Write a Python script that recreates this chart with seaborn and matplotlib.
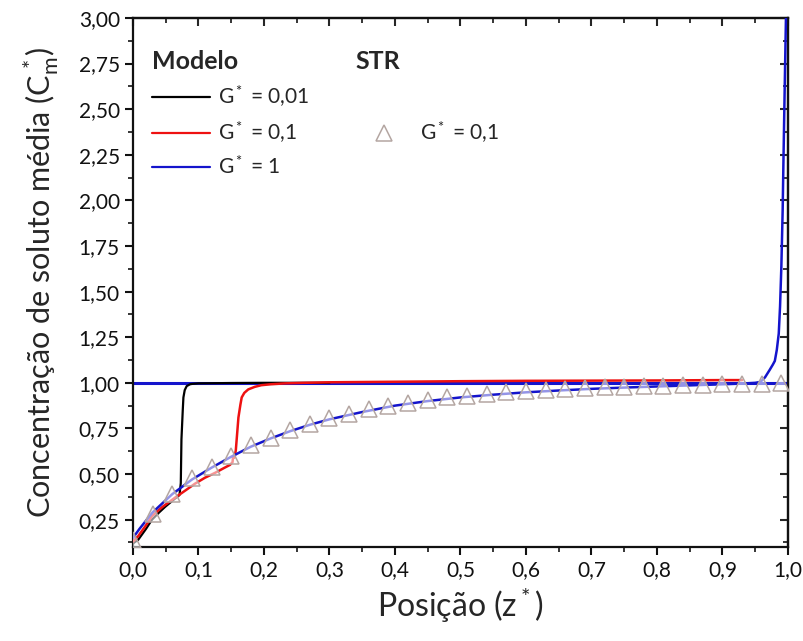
import numpy as np
import pandas as pd
import matplotlib
matplotlib.use("Agg")
import matplotlib.pyplot as plt
from matplotlib.ticker import MultipleLocator, FuncFormatter
from matplotlib.lines import Line2D
import seaborn as sns

# ---------------- data ----------------
x_g001 = [0.0, 0.008, 0.02, 0.029, 0.04, 0.049, 0.064, 0.071, 0.073, 0.074,
          0.076, 0.077, 0.079, 0.082, 0.087, 0.09, 0.10, 0.15, 0.20, 0.30]
y_g001 = [0.12, 0.14, 0.20, 0.25, 0.29, 0.32, 0.365, 0.385, 0.45, 0.69,
          0.85, 0.92, 0.96, 0.982, 0.992, 0.994, 0.997, 0.999, 1.0, 1.0]

x_g01 = [0.0, 0.008, 0.02, 0.029, 0.045, 0.064, 0.08, 0.095, 0.11, 0.125,
         0.14, 0.148, 0.152, 0.153, 0.155, 0.157, 0.159, 0.161, 0.164, 0.166,
         0.170, 0.176, 0.186, 0.196, 0.21, 0.232, 0.26, 0.30, 0.40, 0.50,
         0.60, 0.70, 0.80, 0.90, 0.93]
y_g01 = [0.13, 0.16, 0.22, 0.27, 0.32, 0.37, 0.41, 0.448, 0.48, 0.506,
         0.535, 0.55, 0.565, 0.60, 0.59, 0.63, 0.72, 0.81, 0.88, 0.92,
         0.945, 0.964, 0.978, 0.987, 0.992, 0.997, 1.0, 1.003, 1.006, 1.009,
         1.011, 1.012, 1.013, 1.015, 1.015]

x_g1 = [0.0, 0.01, 0.03, 0.06, 0.09, 0.12, 0.15, 0.18, 0.21, 0.24,
        0.27, 0.30, 0.35, 0.40, 0.45, 0.50, 0.55, 0.60, 0.65, 0.70,
        0.75, 0.80, 0.85, 0.90, 0.93, 0.95, 0.958, 0.965, 0.972, 0.977,
        0.980, 0.983, 0.986, 0.988, 0.990, 0.992, 0.993, 0.995, 0.997]
y_g1 = [0.15, 0.20, 0.29, 0.39, 0.47, 0.535, 0.595, 0.65, 0.695, 0.735,
        0.77, 0.80, 0.84, 0.875, 0.90, 0.92, 0.935, 0.948, 0.958, 0.967,
        0.974, 0.98, 0.986, 0.992, 0.996, 1.0, 1.005, 1.03, 1.07, 1.10,
        1.12, 1.18, 1.27, 1.42, 1.64, 1.95, 2.18, 2.60, 3.0]

x_ref = [0.0, 1.0]
y_ref = [1.0, 1.0]

x_str = [0.00, 0.03, 0.06, 0.09, 0.12, 0.15, 0.18, 0.21, 0.24, 0.27,
         0.30, 0.33, 0.36, 0.39, 0.42, 0.45, 0.48, 0.51, 0.54, 0.57,
         0.60, 0.63, 0.66, 0.69, 0.72, 0.75, 0.78, 0.81, 0.84, 0.87,
         0.90, 0.93, 0.96, 0.99]
y_str = [0.14, 0.28, 0.39, 0.48, 0.54, 0.60, 0.66, 0.70, 0.74, 0.775,
         0.805, 0.83, 0.855, 0.875, 0.89, 0.905, 0.92, 0.93, 0.94, 0.95,
         0.957, 0.963, 0.968, 0.972, 0.976, 0.979, 0.982, 0.985, 0.988, 0.99,
         0.992, 0.994, 0.996, 0.998]

labels_model = ["G$^*$ = 0,01", "G$^*$ = 0,1", "G$^*$ = 1"]
label_str = "G$^*$ = 0,1"
xlabel = "Posição (z$^*$)"
ylabel = "Concentração de soluto média (C$_{\\mathrm{m}}^{\\,*}$)"

# ---------------- style ----------------
sns.set_style("ticks")
plt.rcParams["font.family"] = ["Lato", "DejaVu Sans"]
plt.rcParams["mathtext.fontset"] = "custom"
plt.rcParams["mathtext.rm"] = "Lato"
plt.rcParams["mathtext.it"] = "Lato:italic"
plt.rcParams["mathtext.bf"] = "Lato:bold"
plt.rcParams["mathtext.default"] = "regular"

c_black = "#000000"
c_red = "#ee1111"
c_blue = "#1414cc"
c_tri = "#b4a6a2"

fig = plt.figure(figsize=(8.04, 6.41), dpi=100)
ax = fig.add_axes([0.1654, 0.1466, 0.8146, 0.8254])

df_ref = pd.DataFrame({"x": x_ref, "y": y_ref})
df1 = pd.DataFrame({"x": x_g001, "y": y_g001})
df2 = pd.DataFrame({"x": x_g01, "y": y_g01})
df3 = pd.DataFrame({"x": x_g1, "y": y_g1})
dfs = pd.DataFrame({"x": x_str, "y": y_str})

sns.lineplot(data=df_ref, x="x", y="y", ax=ax, color=c_blue, lw=2.2,
             sort=False, estimator=None, zorder=2)
sns.lineplot(data=df1, x="x", y="y", ax=ax, color=c_black, lw=1.6,
             sort=False, estimator=None, zorder=3)
sns.lineplot(data=df2, x="x", y="y", ax=ax, color=c_red, lw=1.8,
             sort=False, estimator=None, zorder=3)
sns.lineplot(data=df3, x="x", y="y", ax=ax, color=c_blue, lw=1.8,
             sort=False, estimator=None, zorder=3)
ax.plot(dfs["x"], dfs["y"], ls="none", marker="^", markersize=11,
        markerfacecolor=(1, 1, 1, 0.55), markeredgecolor=c_tri,
        markeredgewidth=1.1, zorder=4)

ax.set_xlim(0.0, 1.0)
ax.set_ylim(0.1, 3.0)
ax.xaxis.set_major_locator(MultipleLocator(0.1))
ax.xaxis.set_minor_locator(MultipleLocator(0.05))
ax.yaxis.set_major_locator(MultipleLocator(0.25))
ax.yaxis.set_minor_locator(MultipleLocator(0.125))
ax.xaxis.set_major_formatter(FuncFormatter(lambda v, p: f"{v:.1f}".replace(".", ",")))
ax.yaxis.set_major_formatter(FuncFormatter(lambda v, p: f"{v:.2f}".replace(".", ",")))
ax.tick_params(which="major", direction="out", length=6, width=1.5,
               labelsize=15, colors="#111111")
ax.tick_params(which="minor", direction="out", length=3.5, width=1.3)
for s in ax.spines.values():
    s.set_linewidth(1.6)
    s.set_color("#111111")

top = ax.secondary_xaxis("top")
top.xaxis.set_major_locator(MultipleLocator(0.1))
top.xaxis.set_minor_locator(MultipleLocator(0.05))
top.tick_params(which="major", direction="in", length=6, width=1.5, labeltop=False)
top.tick_params(which="minor", direction="in", length=3.5, width=1.3)
top.spines["top"].set_linewidth(1.6)
right = ax.secondary_yaxis("right")
right.yaxis.set_major_locator(MultipleLocator(0.25))
right.yaxis.set_minor_locator(MultipleLocator(0.125))
right.tick_params(which="major", direction="in", length=6, width=1.5, labelright=False)
right.tick_params(which="minor", direction="in", length=3.5, width=1.3)
right.spines["right"].set_linewidth(1.6)

ax.set_xlabel(xlabel, fontsize=23, labelpad=4)
ax.set_ylabel(ylabel, fontsize=22, labelpad=13)

# legends
h_model = [Line2D([], [], color=c, lw=1.6) for c in (c_black, c_red, c_blue)]
leg1 = ax.legend(h_model, labels_model, loc="upper left",
                 bbox_to_anchor=(0.029, 0.94), borderaxespad=0, borderpad=0,
                 frameon=False, fontsize=15, title="Modelo",
                 title_fontproperties={"weight": "bold", "size": 18},
                 handlelength=2.8, handletextpad=0.35, labelspacing=0.5)
leg1._legend_box.align = "left"
ax.add_artist(leg1)

h_str = [Line2D([], [], ls="none", marker="^", markersize=11,
                markerfacecolor="white", markeredgecolor=c_tri,
                markeredgewidth=1.1)]
leg2 = ax.legend(h_str, [label_str], loc="upper left",
                 bbox_to_anchor=(0.358, 0.808), borderaxespad=0, borderpad=0,
                 frameon=False, fontsize=15, handlelength=1.6,
                 handletextpad=0.9)
ax.text(0.339, 0.94, "STR", transform=ax.transAxes, fontsize=18,
        fontweight="bold", va="top", ha="left")

fig.savefig("out.png", dpi=100, facecolor="white")
